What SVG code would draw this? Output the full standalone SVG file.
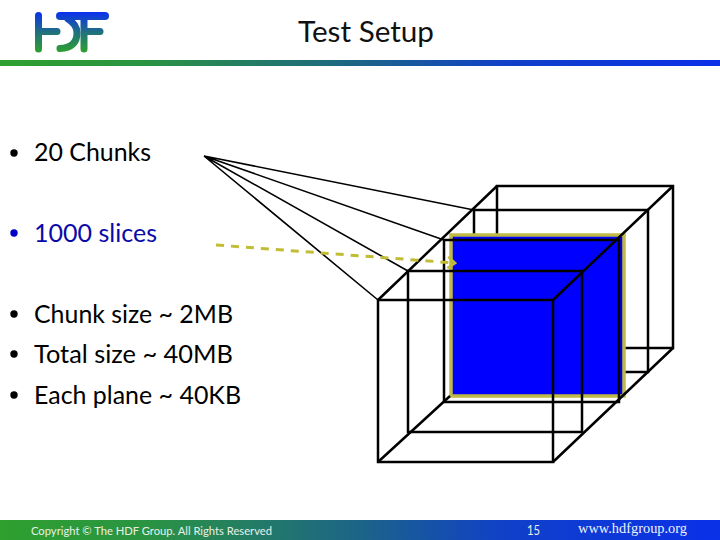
<svg xmlns="http://www.w3.org/2000/svg" width="720" height="540" viewBox="0 0 720 540">
<style>
text{font-family:"Lato","Liberation Sans",sans-serif}
.b{font-size:25px;fill:#000}
.c{fill:none;stroke:#000;stroke-width:2.5}
.f{stroke:#000;stroke-width:1.6;fill:none}
.w{fill:#e8f0e8}
</style>
<defs>
<linearGradient id="h" x1="0" y1="0" x2="1" y2="0"><stop offset="0" stop-color="#2ea02e"/><stop offset="0.2" stop-color="#2a9442"/><stop offset="0.5" stop-color="#1c6488"/><stop offset="0.7" stop-color="#1040c8"/><stop offset="1" stop-color="#0a30e8"/></linearGradient>
<linearGradient id="l" gradientUnits="userSpaceOnUse" x1="0" y1="12" x2="0" y2="52"><stop offset="0" stop-color="#0a30f0"/><stop offset="0.5" stop-color="#1f7080"/><stop offset="1" stop-color="#2ea02e"/></linearGradient>
<marker id="a" markerWidth="4" markerHeight="5" refX="3.2" refY="2.5" orient="auto" markerUnits="strokeWidth"><path d="M.8 .6L3.2 2.5L.8 4.4" fill="none" stroke="#c0bd35" stroke-width=".9"/></marker>
</defs>
<rect width="720" height="540" fill="#fff"/>
<g id="logo" fill="none" stroke="url(#l)" stroke-linecap="round">
<path d="M38.500 15.500V49M38.500 31.500H57" stroke-width="7"/>
<path d="M60 16H105" stroke-width="8"/>
<path d="M84 16V49M84 31.500H100" stroke-width="7"/>
<path d="M60 48.500C72 48 77 42 77 33C77 27 73 22 68 19" stroke-width="7"/>
</g>
<rect id="header-rule" y="60" width="720" height="6" fill="url(#h)"/>
<text id="title" x="298" y="42" font-size="29" fill="#111" textLength="136" lengthAdjust="spacingAndGlyphs">Test Setup</text>
<g id="bullets">
<circle cx="14" cy="153" r="3.700"/><text x="34" y="161" class="b" textLength="117" lengthAdjust="spacingAndGlyphs">20 Chunks</text>
<circle cx="14" cy="233" r="3.700" fill="#0000c8"/><text x="34" y="242" class="b" style="fill:#0a0aa8" textLength="123" lengthAdjust="spacingAndGlyphs">1000 slices</text>
<circle cx="14" cy="314" r="3.700"/><text x="34" y="323" class="b" textLength="199" lengthAdjust="spacingAndGlyphs">Chunk size ~ 2MB</text>
<circle cx="14" cy="354" r="3.700"/><text x="34" y="363" class="b" textLength="199" lengthAdjust="spacingAndGlyphs">Total size ~ 40MB</text>
<circle cx="14" cy="395" r="3.700"/><text x="34" y="404" class="b" textLength="207" lengthAdjust="spacingAndGlyphs">Each plane ~ 40KB</text>
</g>
<g id="cube-back">
<rect class="c" x="497" y="186" width="176" height="162"/>
<rect class="c" x="474" y="210" width="174" height="162"/>
</g>
<rect id="plane" x="451" y="235" width="173" height="161" fill="#00f" stroke="#bfba45" stroke-width="3.500"/>
<g id="cube-front">
<rect class="c" x="444" y="240" width="175" height="162"/>
<rect class="c" x="408" y="271" width="174" height="161"/>
<rect class="c" x="378" y="300" width="175" height="162"/>
<path class="c" d="M378 300L497 186M553 300L673 186M553 462L673 348M378 462L450 396"/>
</g>
<g id="connectors">
<path class="f" d="M204 156L474 210M204 156L444 240M204 156L408 271M204 156L378 300"/>
<path d="M216 245L455 263" fill="none" stroke="#c0bd35" stroke-width="3" stroke-dasharray="8 7" marker-end="url(#a)"/>
</g>
<rect id="footer" y="520" width="720" height="20" fill="url(#h)"/>
<text id="copyright" class="w" x="31" y="535" font-size="11" textLength="241" lengthAdjust="spacingAndGlyphs">Copyright © The HDF Group. All Rights Reserved</text>
<text id="page" class="w" x="527" y="535" font-size="12.500" textLength="13" lengthAdjust="spacingAndGlyphs">15</text>
<text id="url" x="578" y="533" font-size="14" fill="#eef3ff" style="font-family:'Liberation Serif',serif" textLength="109" lengthAdjust="spacingAndGlyphs">www.hdfgroup.org</text>
</svg>
